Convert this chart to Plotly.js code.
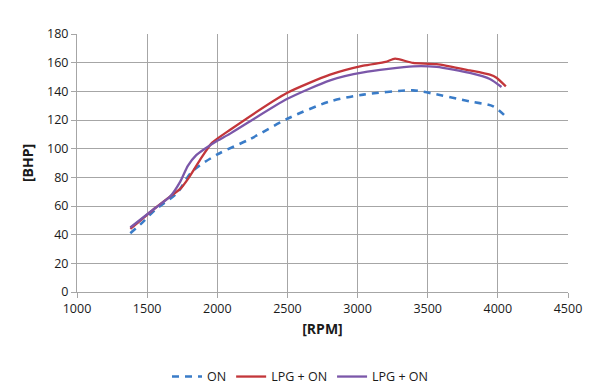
<!DOCTYPE html>
<html><head><meta charset="utf-8">
<script src="https://cdn.plot.ly/plotly-3.0.1.min.js"></script>
<style>html,body{margin:0;padding:0;background:#fff}#c{width:600px;height:391px}</style>
</head><body><div id="c"></div>
<script>
const onRpm = [1380, 1450, 1558, 1712, 1820, 1997, 2234, 2496, 2804, 3041, 3395, 3492, 3800, 3967, 4050];
const onBhp = [41, 47, 57.4, 69, 84, 95.8, 106.7, 120.7, 133, 137.7, 140.7, 139.3, 133, 129.5, 123];
const lpgRpm = [1380, 1558, 1665, 1736, 1795, 1878, 1962, 2092, 2496, 2804, 3041, 3200, 3267, 3395, 3564, 3800, 3943, 3990, 4057];
const lpgBhp = [44, 58.6, 66.7, 71.9, 79.5, 92.3, 104, 113.2, 138.8, 151.6, 157.9, 160.5, 162.8, 159.8, 159, 154.6, 151.6, 149.5, 143.5];
const lpg2Rpm = [1380, 1558, 1665, 1736, 1790, 1850, 1920, 2000, 2092, 2496, 2804, 3041, 3395, 3564, 3800, 3943, 4026];
const lpg2Bhp = [45, 58.6, 66.7, 77, 88, 95.5, 100.5, 105.5, 110.5, 134.6, 147.7, 153.2, 157.4, 157, 152.8, 148.6, 143];
const names = ["ON", "LPG + ON", "LPG + ON"];
const xTicks = [1000, 1500, 2000, 2500, 3000, 3500, 4000, 4500];
const yTicks = [0, 20, 40, 60, 80, 100, 120, 140, 160, 180];

const traces = [
  {x: onRpm, y: onBhp, name: names[0], mode: "lines", line: {color: "#3a7cc8", width: 2.6, dash: "7px,6px", shape: "spline", smoothing: 0.8}},
  {x: lpgRpm, y: lpgBhp, name: names[1], mode: "lines", line: {color: "#c3363a", width: 2.3, shape: "spline", smoothing: 0.6}},
  {x: lpg2Rpm, y: lpg2Bhp, name: names[2], mode: "lines", line: {color: "#7b57a9", width: 2.3, shape: "spline", smoothing: 0.6}}
];
const layout = {
  width: 600, height: 391,
  margin: {l: 76.6, r: 32, t: 34.3, b: 98.7, autoexpand: false},
  paper_bgcolor: "#fff", plot_bgcolor: "#fff",
  font: {family: "Open Sans, Liberation Sans, sans-serif", size: 12.5, color: "#1a1a1a"},
  showlegend: true,
  legend: {orientation: "h", xref: "container", yref: "container", x: 0.5, xanchor: "center", y: 0.036, yanchor: "middle", font: {size: 12.5}, itemwidth: 30, tracegroupgap: 0},
  xaxis: {range: [1000, 4500], tickvals: xTicks, showgrid: true, gridcolor: "#a6a6a6", gridwidth: 1, automargin: false,
    showline: true, linecolor: "#a6a6a6", ticks: "outside", ticklen: 5, tickcolor: "#a6a6a6", zeroline: false,
    title: {text: "<b>[RPM]</b>", font: {size: 14}, standoff: 8}, fixedrange: true},
  yaxis: {range: [0, 180], tickvals: yTicks, showgrid: true, gridcolor: "#a6a6a6", gridwidth: 1, automargin: false,
    showline: true, linecolor: "#a6a6a6", ticks: "outside", ticklen: 5, tickcolor: "#a6a6a6", zeroline: false,
    title: {text: "<b>[BHP]</b>", font: {size: 14}, standoff: 10}, fixedrange: true}
};
Plotly.newPlot("c", traces, layout, {displayModeBar: false, staticPlot: true});
</script></body></html>
